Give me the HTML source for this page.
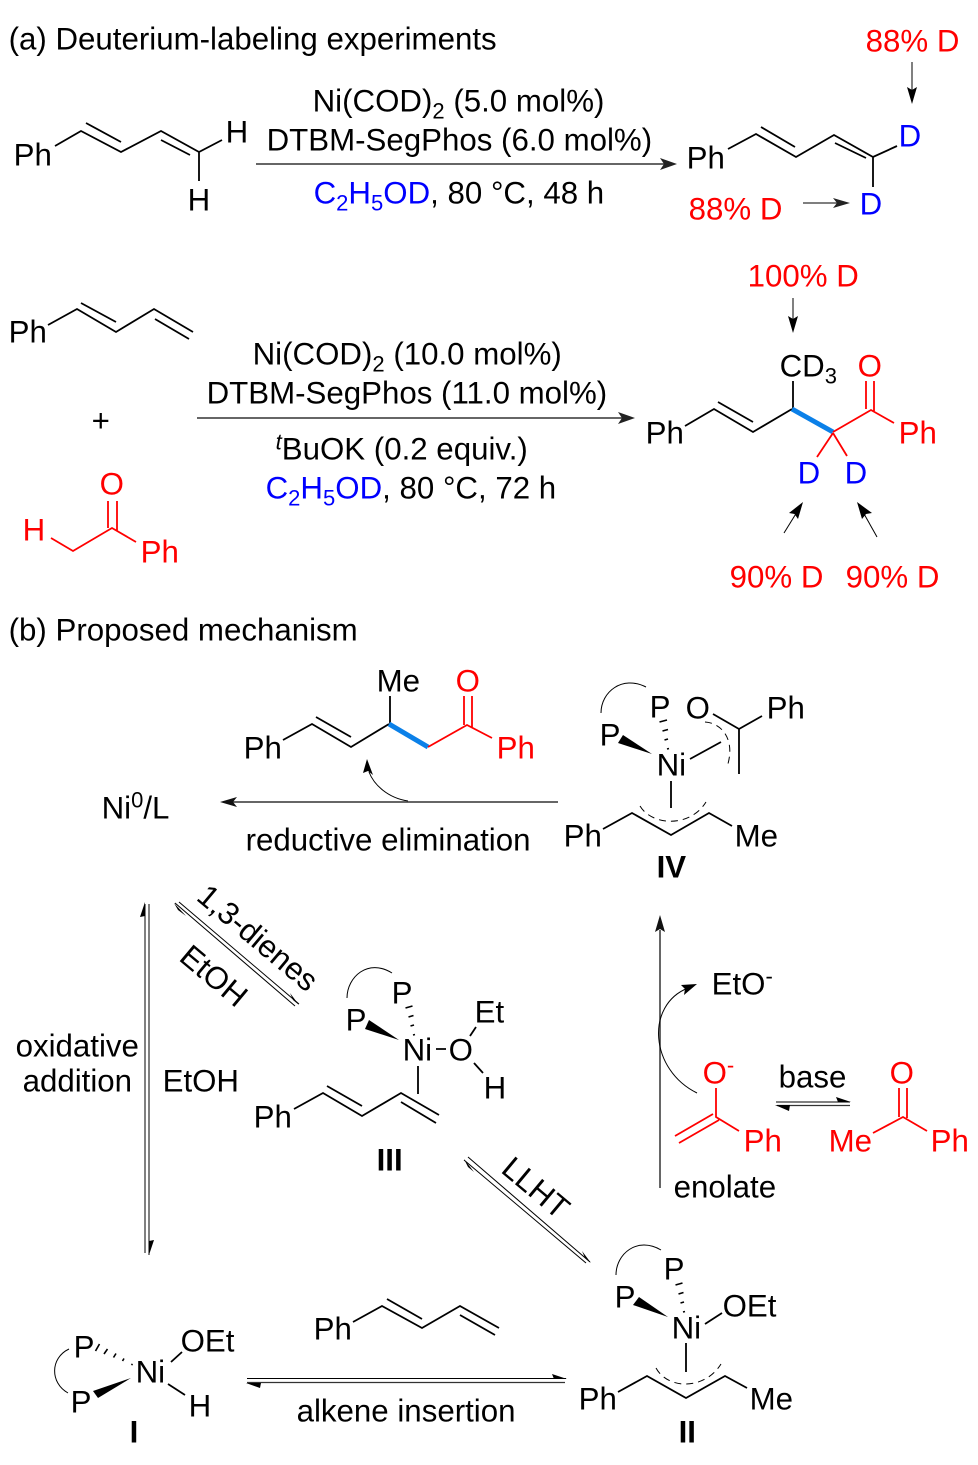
<!DOCTYPE html>
<html lang="en"><head><meta charset="utf-8"><title>Deuterium-labeling and mechanism</title>
<style>
html,body{margin:0;padding:0;background:#fff}
svg{display:block}
text{font-family:"Liberation Sans",Arial,sans-serif;font-size:31.25px;fill:#000}
text:not([transform]){transform:translate(-0.4px,0.7px)}
.r{fill:#f00}.b{fill:#00f}
.s{fill:none;stroke:#000;stroke-width:1.8;stroke-linecap:butt;stroke-linejoin:miter}
.rs{fill:none;stroke:#f00;stroke-width:1.8}
.t{fill:none;stroke:#000;stroke-width:1}
.a{fill:none;stroke:#333;stroke-width:1.3}
.d{fill:none;stroke:#000;stroke-width:1;stroke-dasharray:7 5}
.h{fill:none;stroke:#000;stroke-width:1.6}
.bl{fill:none;stroke:#0b80e8;stroke-width:5}
.big{font-weight:bold}
.sub{font-size:22px}
</style></head><body>
<svg xmlns="http://www.w3.org/2000/svg" width="978" height="1465" viewBox="0 0 978 1465">
<text x="9" y="49">(a) Deuterium-labeling experiments</text>
<text class="r" x="866" y="51">88% D</text>
<path class="t" d="M912 62V90"/><polygon points="912,104 907,87 912,90 917,87"/>

<!-- diene 1 -->
<text x="14" y="165">Ph</text>
<path class="s" d="M55 146L81 131L121 152L161 131L199 152L222 140M199 152V181M86 123L121 142M161 140L190 155"/>
<text x="226" y="142">H</text><text x="188" y="210">H</text>

<text x="313" y="111">Ni(COD)<tspan class="sub" dy="7">2</tspan><tspan dy="-7"> (5.0 mol%)</tspan></text>
<text x="267" y="150">DTBM-SegPhos (6.0 mol%)</text>
<path class="a" d="M256 164H668" style="stroke-width:1.5"/><polygon points="677,164 660,158 664,164 660,170" fill="#222"/>
<text x="314" y="203"><tspan class="b">C</tspan><tspan class="b sub" dy="7">2</tspan><tspan class="b" dy="-7">H</tspan><tspan class="b sub" dy="7">5</tspan><tspan class="b" dy="-7">OD</tspan>, 80 °C, 48 h</text>

<text x="687" y="168">Ph</text>
<path class="s" d="M728 149L756 134L796 157L834 135L873 157L897 146M873 157V187M761 127L795 147M835 143L866 158"/>
<text class="b" x="899" y="146">D</text>
<text class="b" x="860" y="214">D</text>
<text class="r" x="689" y="219">88% D</text>
<path class="a" d="M803 203H838"/><polygon points="850,203 833,198 837,203 833,208" fill="#222"/>

<!-- second reaction -->
<text class="r" x="748" y="286">100% D</text>
<path class="t" d="M793 298V320"/><polygon points="793,333 788,316 793,319 798,316"/>
<text x="9" y="342">Ph</text>
<path class="s" d="M48 325L77 309L116 332L154 309L193 332M81 303L116 322M155 319L189 339"/>
<text x="92" y="431">+</text>
<text class="r" x="23" y="540">H</text>
<path class="rs" d="M51 538L73 551L112 528L136 542M108 501V528M117 501V531"/>
<text class="r" x="100" y="494">O</text>
<text class="r" x="141" y="562">Ph</text>

<text x="253" y="364">Ni(COD)<tspan class="sub" dy="7">2</tspan><tspan dy="-7"> (10.0 mol%)</tspan></text>
<text x="207" y="403">DTBM-SegPhos (11.0 mol%)</text>
<path class="a" d="M197 418H626" style="stroke-width:1.5"/><polygon points="635,418 618,412 622,418 618,424" fill="#222"/>
<text x="276" y="459"><tspan class="sub" font-style="italic" dy="-10">t</tspan><tspan dy="10">BuOK (0.2 equiv.)</tspan></text>
<text x="266" y="498"><tspan class="b">C</tspan><tspan class="b sub" dy="7">2</tspan><tspan class="b" dy="-7">H</tspan><tspan class="b sub" dy="7">5</tspan><tspan class="b" dy="-7">OD</tspan>, 80 °C, 72 h</text>

<text x="646" y="443">Ph</text>
<path class="s" d="M685 426L714 409L753 432L792 409M718 402L753 422M793 381V409"/>
<path class="bl" d="M792 409L833 432"/>
<path class="rs" d="M833 432L871 410L894 423M866 381V409M874 381V411M833 433L817 457M833 433L847 456"/>
<text x="780" y="376">CD<tspan class="sub" dy="7">3</tspan></text>
<text class="r" x="858" y="376">O</text>
<text class="r" x="899" y="443">Ph</text>
<text class="b" x="798" y="483">D</text><text class="b" x="845" y="483">D</text>
<path class="t" d="M784 533L797 512"/><polygon points="803,502 798,519 794.500,514 789,513"/>
<path class="t" d="M877 537L863 512"/><polygon points="857,502 872,513 866,514 862,519"/>
<text class="r" x="730" y="587">90% D</text><text class="r" x="846" y="587">90% D</text>

<text x="9" y="640">(b) Proposed mechanism</text>

<!-- reductive elimination product -->
<text x="244" y="758">Ph</text>
<path class="s" d="M283 740L312 724L351 747L389 724M316 717L351 737M390 696V724"/>
<path class="bl" d="M389 724L428 747"/>
<path class="rs" d="M428 747L467 725L492 738M464 696V725M472 696V727"/>
<text x="377" y="691">Me</text>
<text class="r" x="456" y="691">O</text>
<text class="r" x="497" y="758">Ph</text>
<path class="t" d="M408 801C388 798 374 785 369 772"/><polygon points="367,759 373,775 368,771 363,773" fill="#000"/>
<path class="a" d="M558 802H232" style="stroke-width:1.5"/><polygon points="220,802 237,797 233,802 237,807" fill="#111"/>
<text x="102" y="818">Ni<tspan class="sub" dy="-11">0</tspan><tspan dy="11">/L</tspan></text>
<text x="246" y="850">reductive elimination</text>

<!-- IV -->
<path class="t" d="M601 713C601 692 622 675 646 687"/>
<text x="650" y="717">P</text><text x="600" y="745">P</text>
<polygon points="652,754 623,735 618,743"/>
<path class="h" d="M667 749L669 748.500M664.500 740L668 739M662.500 731L668 729.500M659.500 722L667 720"/>
<text x="657" y="775">Ni</text>
<text x="686" y="718">O</text><text x="767" y="718">Ph</text>
<path class="s" d="M713 714L739 729L762 716M739 729V774M690 759L721 742M671 781V808M603 829L632 813L671 835L709 813L732 826"/>
<path class="d" d="M705 722C722 723 736 740 727 767"/>
<path class="d" d="M640 806C652 826 690 828 706 802"/>
<text x="564" y="846">Ph</text><text x="735" y="846">Me</text>
<text class="big" x="657" y="877">IV</text>

<!-- vertical right -->
<path class="a" d="M660 1188V930" style="stroke-width:1.5"/><polygon points="660,915 655,932 660,929 665,932" fill="#111"/>
<path class="t" d="M697 1093C650 1070 645 1005 688 988"/><polygon points="697,984 681,985 685,989 684,995"/>
<text x="712" y="994">EtO<tspan class="sub" dy="-11">-</tspan></text>
<text class="r" x="703" y="1083">O<tspan class="sub r" dy="-11">-</tspan></text>
<path class="rs" d="M716 1088V1117L739 1131M713 1114L675 1136M719 1120L679 1143"/>
<text class="r" x="744" y="1151">Ph</text>
<text x="779" y="1087">base</text>
<path class="t" d="M776 1102H850"/><polygon points="851,1102 836,1097 838,1102"/>
<path class="a" d="M777 1105.500H850"/><polygon points="775,1105 790,1105 789,1111"/>
<text class="r" x="890" y="1083">O</text>
<path class="rs" d="M899 1088V1117M907 1088V1118M873 1133L903 1117L927 1131"/>
<text class="r" x="829" y="1151">Me</text><text class="r" x="931" y="1151">Ph</text>
<text x="674" y="1197">enolate</text>

<!-- left -->
<path class="t" d="M145 904V1253M149 904V1255"/>
<polygon points="145,902 140,917 145,916"/><polygon points="149,1255 154,1240 149,1241"/>
<text x="16" y="1056">oxidative</text><text x="23" y="1091">addition</text>
<text x="163" y="1091">EtOH</text>

<!-- 1,3-dienes arrows -->
<path class="t" d="M179 902L299 1004M175 903L295 1006"/>
<polygon points="174,903 186,916 178,910"/><polygon points="299,1005 290,993 293,1000"/>
<text transform="translate(251 946) rotate(40)" text-anchor="middle">1,3-dienes</text>
<text transform="translate(207 984) rotate(40)" text-anchor="middle">EtOH</text>

<!-- III -->
<path class="t" d="M347 998C347 977 368 958 392 973"/>
<text x="392" y="1003">P</text><text x="346" y="1030">P</text>
<polygon points="399,1040 369,1020 365,1029"/>
<path class="h" d="M413 1035L415 1034.500M410.500 1026L414 1025M408.500 1017L413.500 1015.500M405.500 1008L412.500 1006"/>
<text x="403" y="1060">Ni</text>
<text x="449" y="1060">O</text>
<text x="475" y="1022">Et</text>
<text x="484" y="1098">H</text>
<path class="s" d="M436 1049H446M470 1036L476 1027M474 1063L483 1073M418 1066V1094M294 1109L323 1093L362 1116L401 1093L439 1115M327 1086L362 1106M401 1102L436 1123"/>
<text x="254" y="1127">Ph</text>
<text class="big" x="377" y="1170">III</text>

<!-- LLHT -->
<path class="t" d="M468 1157L590 1262M464 1160L586 1263"/>
<polygon points="464,1159 474,1172 468,1167"/><polygon points="591,1263 582,1251 585,1258"/>
<text transform="translate(529 1196) rotate(40)" text-anchor="middle">LLHT</text>

<!-- II -->
<path class="t" d="M616 1275C616 1254 637 1236 661 1250"/>
<text x="664" y="1279">P</text><text x="615" y="1307">P</text>
<polygon points="668,1317 639,1297 633,1305"/>
<path class="h" d="M683 1312L685 1311.500M680.500 1303L684 1302M678.500 1294L683.500 1292.500M675.500 1285L682.500 1283"/>
<text x="672" y="1338">Ni</text>
<text x="723" y="1316">OEt</text>
<path class="s" d="M705 1324L722 1313M686 1343V1372M618 1392L647 1376L686 1398L725 1376L747 1388"/>
<path class="d" d="M656 1368C668 1390 705 1390 721 1364"/>
<text x="579" y="1409">Ph</text><text x="750" y="1409">Me</text>
<text class="big" x="679" y="1442">II</text>

<!-- bottom arrows + diene -->
<text x="314" y="1339">Ph</text>
<path class="s" d="M353 1322L382 1306L422 1328L460 1306L499 1328M387 1299L422 1319M460 1315L495 1335"/>
<path class="t" d="M247 1378.500H566"/><path class="a" d="M247 1382.500H565"/>
<polygon points="567,1379 552,1374 554,1379"/><polygon points="246,1383 261,1383 260,1388"/>
<text x="297" y="1421">alkene insertion</text>

<!-- I -->
<path class="t" d="M69 1349C50 1358 50 1383 68 1393"/>
<text x="74" y="1357">P</text><text x="71" y="1412">P</text>
<polygon points="131,1378 93,1391 98,1398"/>
<path class="h" d="M131.500 1365L132.500 1364M122.500 1361L124 1358.500M113.500 1357.500L116 1353.500M104 1354L107.500 1349M95.500 1351L99.500 1344"/>
<text x="136" y="1382">Ni</text>
<text x="181" y="1351">OEt</text>
<text x="189" y="1416">H</text>
<path class="s" d="M171 1362L182 1352M168 1384L185 1395"/>
<text class="big" x="130" y="1442">I</text>
</svg>
</body></html>
